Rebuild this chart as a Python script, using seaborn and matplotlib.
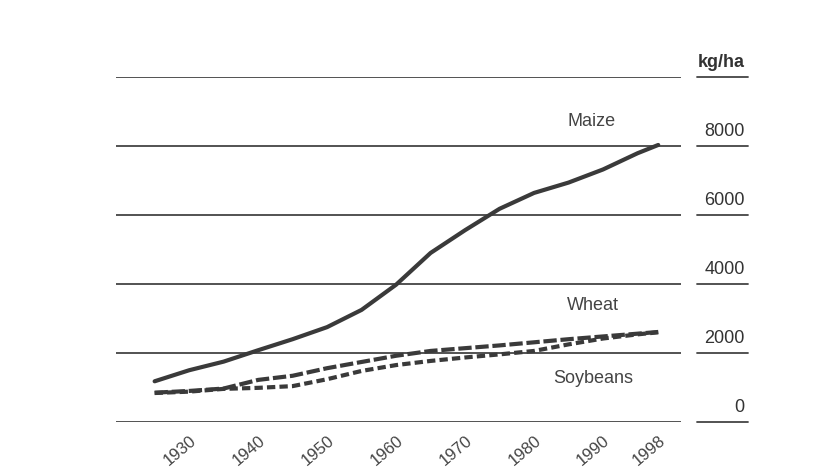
import pandas as pd
import numpy as np
import seaborn as sns
import matplotlib.pyplot as plt
import matplotlib.transforms as mtransforms

# yields, kg/ha
years = [1925, 1930, 1935, 1940, 1945, 1950, 1955, 1960, 1965, 1970, 1975, 1980, 1985, 1990, 1995, 1998]
maize = [1180, 1500, 1750, 2080, 2400, 2750, 3250, 3980, 4900, 5560, 6180, 6640, 6940, 7320, 7790, 8030]
wheat = [850, 900, 970, 1220, 1340, 1560, 1740, 1920, 2060, 2140, 2220, 2310, 2400, 2480, 2560, 2610]
soybeans = [840, 880, 960, 990, 1040, 1240, 1480, 1650, 1770, 1870, 1960, 2060, 2250, 2420, 2540, 2600]

tick_years = [1930, 1940, 1950, 1960, 1970, 1980, 1990, 1998]
y_ticks = [0, 2000, 4000, 6000, 8000, 10000]
y_labels = ['0', '2000', '4000', '6000', '8000', 'kg/ha']

# label text and where it sits (year, kg/ha)
crop_labels = {'Maize': (1988.4, 8700), 'Wheat': (1988.6, 3390), 'Soybeans': (1988.6, 1270)}

df = pd.DataFrame({
    'year': years * 3,
    'yield': maize + wheat + soybeans,
    'crop': ['Maize'] * len(years) + ['Wheat'] * len(years) + ['Soybeans'] * len(years),
})

sns.set_style('white')
plt.rcParams['font.family'] = ['Liberation Sans', 'DejaVu Sans']

fig = plt.figure(figsize=(8.36, 4.75), dpi=100)
ax = fig.add_axes([116 / 836, 53 / 475, 565 / 836, 345 / 475])

grey = '#3a3a3a'
sns.lineplot(data=df, x='year', y='yield', hue='crop', style='crop',
             palette={'Maize': grey, 'Wheat': grey, 'Soybeans': grey},
             dashes={'Maize': '', 'Wheat': (3.2, 0.9), 'Soybeans': (2.0, 1.0)},
             linewidth=3, legend=False, ax=ax)

ax.set_xlim(1919.4, 2001.3)
ax.set_ylim(0, 10000)

# horizontal rules + labels with short underline on the right
trans = mtransforms.blended_transform_factory(ax.transAxes, ax.transData)
for v, lab in zip(y_ticks, y_labels):
    ax.axhline(v, color='#444444', lw=1.3, zorder=0)
    ax.plot([1.028, 1.119], [v, v], transform=trans, color='#444444', lw=1.3, clip_on=False)
    ax.annotate(lab, xy=(1.113, v), xycoords=trans, xytext=(0, 4), textcoords='offset points',
                ha='right', va='bottom', fontsize=13, color='#333333',
                fontweight='bold' if lab == 'kg/ha' else 'normal')

for name, (x, y) in crop_labels.items():
    ax.text(x, y, name, ha='center', va='center', fontsize=13, color='#444444')

ax.set_yticks([])
ax.set_xticks(tick_years)
ax.set_xticklabels([str(t) for t in tick_years], rotation=40, ha='right',
                   rotation_mode='anchor', fontsize=12, color='#444444')
ax.tick_params(axis='x', length=0, pad=8)
ax.set_xlabel('')
ax.set_ylabel('')
sns.despine(ax=ax, left=True, bottom=True)

fig.savefig('out.png', dpi=100)
